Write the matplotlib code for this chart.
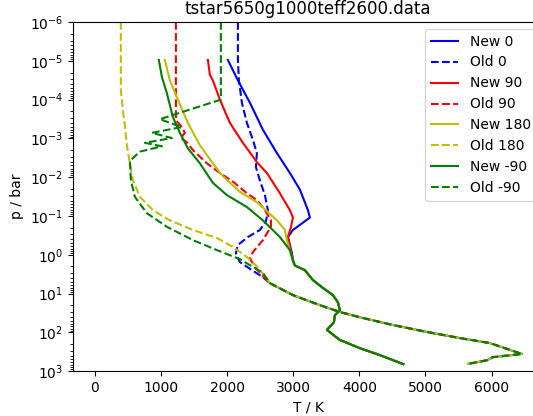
import matplotlib
matplotlib.use('Agg')
import matplotlib.pyplot as plt

# Perfiles T-p (T en K, p en bar)
# Cola comun de los perfiles nuevos
new_tail_T = [2996, 3026, 3177, 3298, 3450, 3601, 3677, 3707, 3631, 3616, 3510, 3707, 4009, 4312, 4665]
new_tail_p = [1.4, 1.9, 2.5, 4.5, 7.2, 11, 17, 27, 36, 55, 87, 158, 257, 389, 661]

# Cola comun de los perfiles viejos
old_tail_T = [2648, 2996, 3404, 3707, 4009, 4509, 5023, 5522, 5976, 6460, 6022, 5931, 5628]
old_tail_p = [5.4, 11, 20, 30, 41, 65, 98, 141, 190, 363, 437, 525, 661]

new0_T = [2012, 2164, 2345, 2542, 2754, 2950, 3102, 3223, 3253, 2996, 2920, 2950, 2981]
new0_p = [9.5e-6, 3.2e-5, 1.2e-4, 6.0e-4, 2.4e-3, 7.8e-3, 2.1e-2, 7.1e-2, 0.11, 0.23, 0.35, 0.56, 0.91]

old0_T = [2164, 2164, 2179, 2224, 2300, 2391, 2451, 2436, 2496, 2572, 2617, 2587, 2496, 2315, 2164, 2133, 2194, 2345, 2542]
old0_p = [1e-6, 9.5e-6, 3.2e-5, 1.2e-4, 4.0e-4, 1.1e-3, 2.4e-3, 5.5e-3, 1.2e-2, 2.9e-2, 7.1e-2, 0.14, 0.23, 0.35, 0.56, 0.91, 1.55, 2.3, 3.8]

new90_T = [1710, 1740, 1785, 1891, 2043, 2239, 2451, 2602, 2799, 2950, 2996, 2965, 2920, 2950]
new90_p = [9.5e-6, 2.3e-5, 3.2e-5, 1.0e-4, 4.0e-4, 1.3e-3, 4.1e-3, 7.8e-3, 2.6e-2, 7.1e-2, 0.11, 0.20, 0.35, 0.63]

old90_T = [1226, 1226, 1226, 1316, 1362, 1301, 1377, 1483, 1695, 1891, 2088, 2300, 2451, 2572, 2663, 2663, 2542, 2391, 2345, 2421, 2557]
old90_p = [1e-6, 2.2e-4, 3.4e-4, 5.1e-4, 7.2e-4, 9.8e-4, 1.2e-3, 2.0e-3, 4.4e-3, 7.8e-3, 1.3e-2, 2.6e-2, 3.9e-2, 7.1e-2, 0.13, 0.19, 0.42, 0.85, 1.23, 2.1, 3.8]

new180_T = [1059, 1135, 1256, 1407, 1589, 1785, 1922, 2194, 2451, 2754, 2875, 2905]
new180_p = [9.5e-6, 3.2e-5, 1.0e-4, 4.0e-4, 1.5e-3, 4.4e-3, 8.9e-3, 2.4e-2, 4.4e-2, 0.13, 0.23, 0.42]

old180_T = [393, 393, 424, 454, 484, 530, 575, 681, 878, 1135, 1483, 1846, 2088, 2300, 2466, 2587]
old180_p = [1e-6, 5.6e-5, 1.9e-4, 4.6e-4, 1.5e-3, 4.4e-3, 1.2e-2, 3.2e-2, 7.1e-2, 0.13, 0.23, 0.37, 0.63, 1.15, 2.1, 3.8]

newm90_T = [968, 1014, 1089, 1180, 1286, 1407, 1589, 1785, 1997, 2300, 2542, 2799, 2950]
newm90_p = [9.5e-6, 2.6e-5, 6.8e-5, 2.8e-4, 7.2e-4, 1.8e-3, 4.4e-3, 1.4e-2, 2.9e-2, 5.9e-2, 0.13, 0.35, 0.76]

oldm90_T = [1906, 1906, 983, 1316, 862, 1165, 757, 1014, 681, 530, 545, 605, 787, 1089, 1483, 1846, 2194, 2542]
oldm90_p = [1e-6, 1.0e-4, 3.2e-4, 5.1e-4, 7.2e-4, 9.8e-4, 1.3e-3, 1.6e-3, 2.2e-3, 3.8e-3, 1.2e-2, 3.2e-2, 8.5e-2, 0.19, 0.42, 0.76, 1.3, 2.95]

series = [
    ('New 0', new0_T + new_tail_T, new0_p + new_tail_p, 'b-'),
    ('Old 0', old0_T + old_tail_T, old0_p + old_tail_p, 'b--'),
    ('New 90', new90_T + new_tail_T, new90_p + new_tail_p, 'r-'),
    ('Old 90', old90_T + old_tail_T, old90_p + old_tail_p, 'r--'),
    ('New 180', new180_T + new_tail_T, new180_p + new_tail_p, 'y-'),
    ('Old 180', old180_T + old_tail_T, old180_p + old_tail_p, 'y--'),
    ('New -90', newm90_T + new_tail_T, newm90_p + new_tail_p, 'g-'),
    ('Old -90', oldm90_T + old_tail_T, oldm90_p + old_tail_p, 'g--'),
]

fig = plt.figure(figsize=(5.33, 4.16), dpi=100)
ax = fig.add_axes([0.137, 0.108, 0.882, 0.839])

for label, T, p, fmt in series:
    ax.plot(T, p, fmt, label=label)

ax.set_yscale('log')
ax.set_ylim(1e3, 1e-6)
ax.set_xlim(-330, 6780)
ax.set_title('tstar5650g1000teff2600.data')
ax.set_xlabel('T / K')
ax.set_ylabel('p / bar')
ax.legend(loc='upper right')

fig.savefig('out.png', dpi=100)
plt.close('all')
